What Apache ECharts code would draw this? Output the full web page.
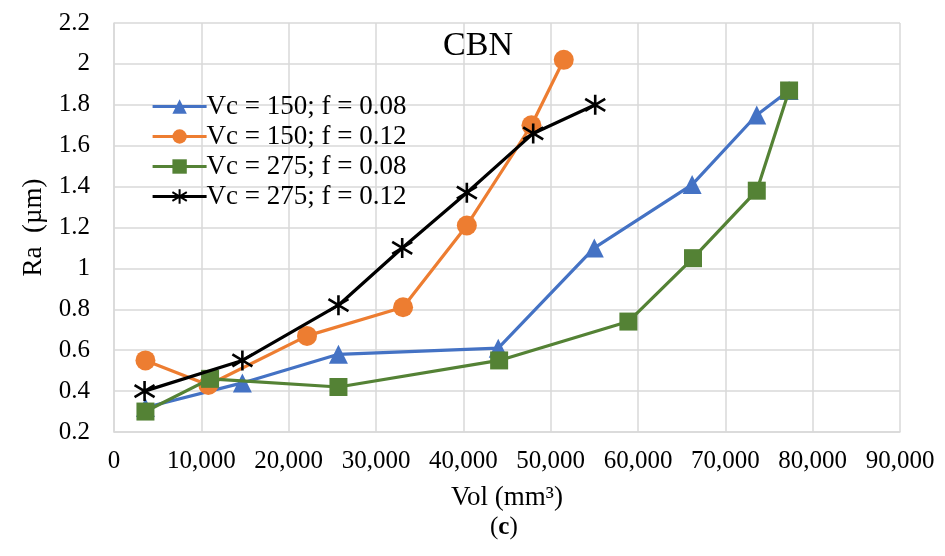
<!DOCTYPE html>
<html>
<head>
<meta charset="utf-8">
<script src="https://cdn.jsdelivr.net/npm/echarts@6/dist/echarts.min.js"></script>
<style>
  html, body { margin: 0; padding: 0; background: #fff; }
  #chart { width: 945px; height: 556px; }
</style>
</head>
<body>
<div id="chart"></div>
<script>
// values: [Vol mm3, Ra um]
var seriesNames = ['Vc = 150; f = 0.08', 'Vc = 150; f = 0.12', 'Vc = 275; f = 0.08', 'Vc = 275; f = 0.12'];
var vc150f008 = [[3600, 0.32], [14700, 0.44], [25700, 0.58], [44000, 0.61], [55000, 1.10], [66200, 1.41], [73600, 1.75], [77300, 1.87]];
var vc150f012 = [[3600, 0.55], [10800, 0.43], [22100, 0.67], [33100, 0.81], [40400, 1.21], [47800, 1.70], [51500, 2.02]];
var vc275f008 = [[3600, 0.30], [11000, 0.46], [25700, 0.42], [44100, 0.55], [58900, 0.74], [66300, 1.05], [73600, 1.38], [77300, 1.87]];
var vc275f012 = [[3500, 0.40], [14700, 0.55], [25700, 0.82], [33000, 1.10], [40400, 1.37], [48000, 1.66], [55100, 1.80]];

var colors = ['#4472C4', '#ED7D31', '#548235', '#000000'];
var font = '"Liberation Serif", "Times New Roman", serif';
var starPath = 'path://M10,0 L10,20 M1,4 L19,16 M1,16 L19,4';

function mkSeries(i, data, symbol, size) {
    var s = {
        name: seriesNames[i],
        type: 'line',
        data: data,
        symbol: symbol,
        symbolSize: size,
        showAllSymbol: true,
        lineStyle: {color: colors[i], width: 3.2},
        itemStyle: {color: colors[i]},
        z: 2 + i
    };
    if (symbol === starPath) {
        s.itemStyle = {color: 'none', borderColor: colors[i], borderWidth: 2.6};
    }
    return s;
}

var chart = echarts.init(document.getElementById('chart'));
chart.setOption({
    animation: false,
    textStyle: {fontFamily: font},
    title: {
        text: 'CBN',
        left: 473,
        top: 24,
        textAlign: 'center',
        textStyle: {fontFamily: font, fontSize: 34, fontWeight: 'normal', color: '#000'}
    },
    legend: {
        orient: 'vertical',
        left: 146,
        top: 88,
        itemWidth: 54,
        itemHeight: 18,
        itemGap: 3,
        data: seriesNames,
        lineStyle: {width: 3.2},
        textStyle: {fontFamily: font, fontSize: 27, color: '#000', padding: [0, 0, 0, -5]}
    },
    grid: {left: 114, right: 45, top: 23, bottom: 124, containLabel: false},
    xAxis: {
        type: 'value',
        min: 0,
        max: 90000,
        interval: 10000,
        name: 'Vol (mm³)',
        nameLocation: 'middle',
        nameGap: 52,
        nameTextStyle: {fontFamily: font, fontSize: 27, color: '#000'},
        axisLine: {lineStyle: {color: '#d9d9d9', width: 1.5}},
        axisTick: {show: false},
        splitLine: {lineStyle: {color: '#d9d9d9', width: 1.5}},
        axisLabel: {
            fontFamily: font, fontSize: 25, color: '#000', margin: 17,
            formatter: function (v) { return v.toLocaleString('en-US'); }
        }
    },
    yAxis: {
        type: 'value',
        min: 0.2,
        max: 2.2,
        interval: 0.2,
        name: 'Ra  (µm)',
        nameLocation: 'middle',
        nameGap: 66,
        nameTextStyle: {fontFamily: font, fontSize: 27, color: '#000'},
        axisLine: {show: true, lineStyle: {color: '#d9d9d9', width: 1.5}},
        axisTick: {show: false},
        splitLine: {lineStyle: {color: '#d9d9d9', width: 1.5}},
        axisLabel: {
            fontFamily: font, fontSize: 25, color: '#000', margin: 24,
            formatter: function (v) { return String(Math.round(v * 10) / 10); }
        }
    },
    graphic: [{
        type: 'text',
        left: 490,
        top: 515,
        style: {
            rich: {
                p: {fontFamily: font, fontSize: 25, fill: '#000'},
                b: {fontFamily: font, fontSize: 25, fontWeight: 'bold', fill: '#000'}
            },
            text: '{p|(}{b|c}{p|)}'
        }
    }],
    series: [
        mkSeries(0, vc150f008, 'triangle', 19),
        mkSeries(1, vc150f012, 'circle', 20),
        mkSeries(2, vc275f008, 'rect', 18),
        mkSeries(3, vc275f012, starPath, 20)
    ]
});
</script>
</body>
</html>
